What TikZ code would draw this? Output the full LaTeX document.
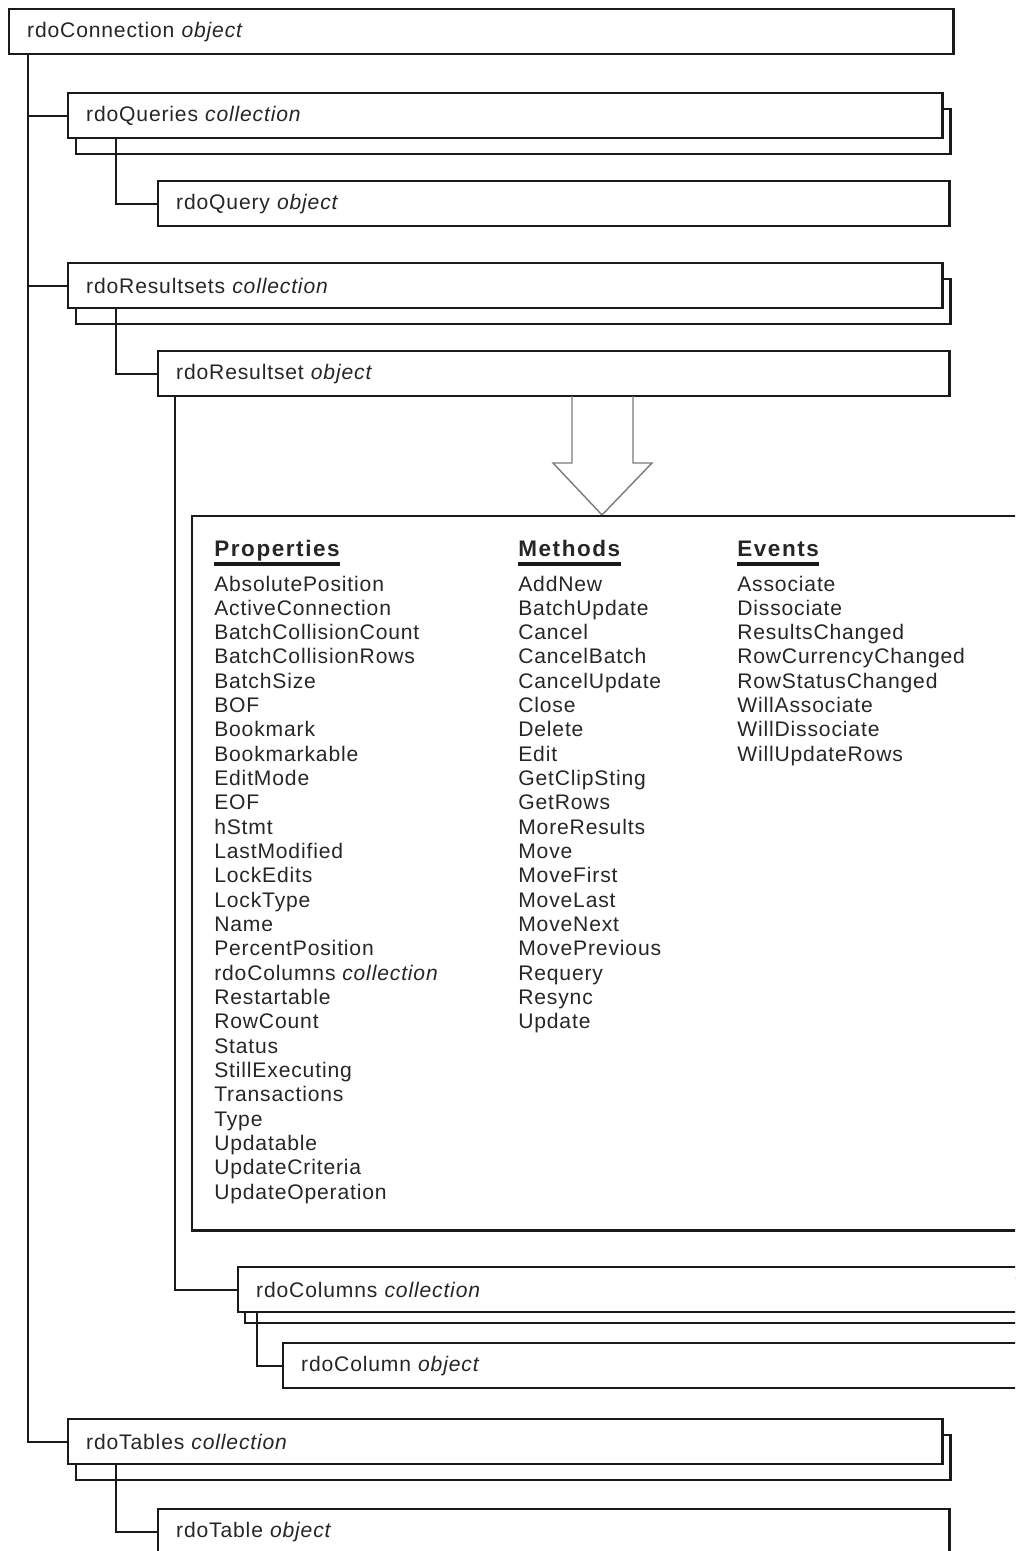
\documentclass[tikz,border=0pt]{standalone}
\usepackage{fontspec}
\setmainfont{Liberation Sans}[LetterSpace=4]
\usetikzlibrary{positioning, calc}
\definecolor{ink}{HTML}{262626}
\definecolor{rule}{HTML}{1A1A1A}
\definecolor{hollowgray}{HTML}{7A7A7A}

\begin{document}
\begin{tikzpicture}[
    x=0.025cm, y=-0.025cm,
    every node/.style={text=ink, font=\fontsize{15pt}{18pt}\selectfont},
    objbox/.style={rectangle, draw=rule, fill=white, line width=1.7pt,
                   anchor=north west, inner xsep=0.45cm, inner ysep=0pt,
                   minimum height=1.125cm, align=left},
    coll/.style={objbox, text width=20.95cm},
    obj/.style={objbox, text width=18.875cm},
    backbox/.style={rectangle, draw=rule, fill=white, line width=1.7pt,
                    anchor=north west, minimum height=1.125cm, minimum width=21.85cm},
    panel/.style={rectangle, draw=rule, line width=1.7pt, anchor=north west,
                  minimum width=22.8cm, minimum height=17.85cm},
    heading/.style={anchor=base west, inner sep=0pt,
                    font=\fontsize{16pt}{19pt}\selectfont\bfseries\addfontfeature{LetterSpace=7}},
    member/.style={anchor=base west, inner sep=0pt},
    uline/.style={draw=rule, line width=2.2pt},
    link/.style={draw=rule, line width=1.7pt},
    hollow/.style={draw=hollowgray, line width=1pt, line join=miter}
  ]
    \useasboundingbox (0,0) rectangle (1015,1551);
    \clip (0,0) rectangle (1015,1551);

    % object tree
    \node[objbox, text width=22.7cm] (conn) at (8,8) {rdoConnection \textit{object}};

    \node[backbox] (queriesback) at (75,108) {};
    \node[coll] (queries) at (67,92) {rdoQueries \textit{collection}};
    \node[obj] (query) at (157,180) {rdoQuery \textit{object}};

    \node[backbox] (resultsetsback) at (75,278) {};
    \node[coll] (resultsets) at (67,262) {rdoResultsets \textit{collection}};
    \node[obj] (resultset) at (157,350) {rdoResultset \textit{object}};

    % hollow arrow into the member panel
    \draw[hollow] (572,396) -- (572,463) -- (553,463) -- (602,515)
                  -- (652,463) -- (633,463) -- (633,396);

    \node[panel] (members) at (191,515) {};

    \node[heading] (hprop) at (214,556) {Properties};
    \node[heading] (hmeth) at (518,556) {Methods};
    \node[heading] (hevt) at (737,556) {Events};
    \draw[uline] ([yshift=-0.2cm]hprop.base west) -- ([yshift=-0.2cm]hprop.base east);
    \draw[uline] ([yshift=-0.2cm]hmeth.base west) -- ([yshift=-0.2cm]hmeth.base east);
    \draw[uline] ([yshift=-0.2cm]hevt.base west) -- ([yshift=-0.2cm]hevt.base east);

    \foreach \item [count=\i] in {AbsolutePosition, ActiveConnection, BatchCollisionCount,
        BatchCollisionRows, BatchSize, BOF, Bookmark, Bookmarkable, EditMode, EOF, hStmt,
        LastModified, LockEdits, LockType, Name, PercentPosition, rdoColumns \textit{collection},
        Restartable, RowCount, Status, StillExecuting, Transactions, Type, Updatable,
        UpdateCriteria, UpdateOperation}
      \node[member] (prop\i) at (214,{591+24.33*(\i-1)}) {\item};

    \foreach \item [count=\i] in {AddNew, BatchUpdate, Cancel, CancelBatch, CancelUpdate,
        Close, Delete, Edit, GetClipSting, GetRows, MoreResults, Move, MoveFirst, MoveLast,
        MoveNext, MovePrevious, Requery, Resync, Update}
      \node[member] (meth\i) at (518,{591+24.33*(\i-1)}) {\item};

    \foreach \item [count=\i] in {Associate, Dissociate, ResultsChanged, RowCurrencyChanged,
        RowStatusChanged, WillAssociate, WillDissociate, WillUpdateRows}
      \node[member] (evt\i) at (737,{591+24.33*(\i-1)}) {\item};

    \node[backbox, minimum width=21.65cm] (columnsback) at (244,1277) {};
    \node[objbox, text width=20.75cm] (columns) at (237,1266) {rdoColumns \textit{collection}};
    \node[objbox, text width=19.6cm] (column) at (282,1342) {rdoColumn \textit{object}};

    \node[backbox] (tablesback) at (75,1434) {};
    \node[coll] (tables) at (67,1418) {rdoTables \textit{collection}};
    \node[obj] (table) at (157,1508) {rdoTable \textit{object}};

    % connectors
    \coordinate (trunk) at ([xshift=0.5cm]conn.south west);
    \coordinate (qstem) at ([xshift=1.225cm]queries.south west);
    \coordinate (rstem) at ([xshift=1.225cm]resultsets.south west);
    \coordinate (sstem) at ([xshift=0.45cm]resultset.south west);
    \coordinate (cstem) at ([xshift=0.5cm]columns.south west);
    \coordinate (tstem) at ([xshift=1.225cm]tables.south west);

    \draw[link] (trunk) |- (tables.west);
    \draw[link] (trunk |- queries.west) -- (queries.west);
    \draw[link] (trunk |- resultsets.west) -- (resultsets.west);
    \draw[link] (qstem) |- (query.west);
    \draw[link] (rstem) |- (resultset.west);
    \draw[link] (sstem) |- (columns.west);
    \draw[link] (cstem) |- (column.west);
    \draw[link] (tstem) |- (table.west);
  \end{tikzpicture}
\end{document}
